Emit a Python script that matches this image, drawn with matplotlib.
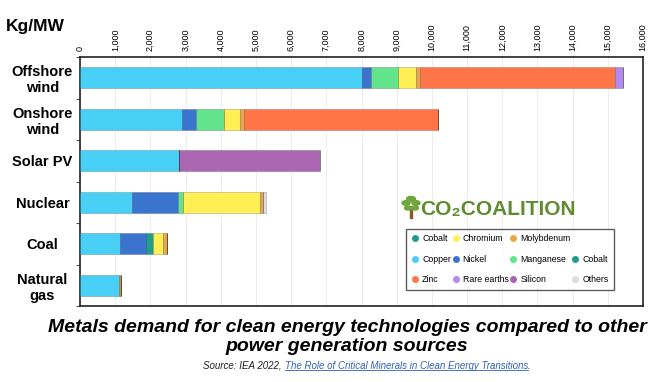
import matplotlib
matplotlib.use("Agg")
import matplotlib.pyplot as plt
from matplotlib.lines import Line2D
from matplotlib.patches import Circle, Rectangle
from matplotlib.ticker import FuncFormatter, MultipleLocator

plt.rcParams["font.family"] = ["Liberation Sans", "DejaVu Sans"]

categories = ["Offshore\nwind", "Onshore\nwind", "Solar PV", "Nuclear", "Coal", "Natural\ngas"]

# kg per MW, segment lengths
copper = [8000, 2900, 2820, 1470, 1140, 1110]
nickel = [260, 405, 0, 1320, 735, 0]
manganese = [790, 785, 0, 145, 0, 0]
cobalt = [0, 0, 0, 0, 205, 0]
chromium = [495, 465, 0, 2175, 290, 25]
molybdenum = [115, 115, 0, 100, 90, 20]
zinc = [5540, 5510, 0, 0, 0, 0]
rare_earths = [235, 0, 0, 0, 0, 0]
silicon = [0, 0, 4000, 0, 0, 0]
others = [0, 0, 0, 75, 0, 0]

series = [
    ("Copper", copper, "#47CFF6"),
    ("Nickel", nickel, "#3B74CF"),
    ("Manganese", manganese, "#62E38C"),
    ("Cobalt", cobalt, "#1E9E8C"),
    ("Chromium", chromium, "#FFEF55"),
    ("Molybdenum", molybdenum, "#E9A64A"),
    ("Zinc", zinc, "#FF7547"),
    ("Rare earths", rare_earths, "#B38AF0"),
    ("Silicon", silicon, "#AB66B1"),
    ("Others", others, "#DCDCDC"),
]
colors = {name: c for name, _, c in series}

fig = plt.figure(figsize=(6.62, 3.82), dpi=100)
ax = fig.add_axes([80 / 662, 1 - 306 / 382, 563 / 662, 249 / 382])

ypos = list(range(len(categories)))
left = [0] * len(categories)
for name, vals, col in series:
    ax.barh(ypos, vals, left=left, height=0.5, color=col,
            edgecolor=(0, 0, 0, 0.25), linewidth=0.5, zorder=3)
    left = [l + v for l, v in zip(left, vals)]

ax.set_xlim(0, 16000)
ax.set_ylim(len(categories) - 0.5, -0.5)
ax.xaxis.set_major_locator(MultipleLocator(1000))
ax.xaxis.set_major_formatter(FuncFormatter(lambda v, p: f"{int(v):,}"))
ax.xaxis.tick_top()
ax.tick_params(axis="x", length=0, labelsize=6.5, rotation=90, pad=4)
ax.grid(axis="x", color="#EDEDED", linewidth=0.8, zorder=0)

ax.set_yticks(ypos)
ax.set_yticklabels(categories, fontsize=10.5, fontweight="bold", ha="center")
ax.tick_params(axis="y", length=0, pad=27)
ax.set_yticks([i + 0.5 for i in range(-1, len(categories))], minor=True)
ax.tick_params(axis="y", which="minor", length=3, width=0.8, color="#555555")
for s in ax.spines.values():
    s.set_linewidth(1.2)
    s.set_color("#222222")

fig.text(6 / 662, 1 - 27 / 382, "Kg/MW", fontsize=12.5, fontweight="bold", va="center")

# legend
order = ["Cobalt", "Copper", "Zinc", "Chromium", "Nickel", "Rare earths",
         "Molybdenum", "Manganese", "Silicon", None, "Cobalt", "Others"]
handles, labels = [], []
for n in order:
    if n is None:
        handles.append(Line2D([], [], linestyle="none", marker=None))
        labels.append("")
    else:
        handles.append(Line2D([], [], linestyle="none", marker="o", markersize=4,
                              markerfacecolor=colors[n], markeredgecolor=colors[n]))
        labels.append(n)
leg = fig.legend(handles, labels, ncol=4, loc="lower left",
                 bbox_to_anchor=(402 / 662, 1 - 294 / 382, 216 / 662, 66 / 382),
                 mode="expand", fontsize=6.3, frameon=True, fancybox=False,
                 handletextpad=0.4, columnspacing=0.6, labelspacing=1.35,
                 borderpad=0.6, handlelength=0.8)
leg.get_frame().set_edgecolor("#333333")
leg.get_frame().set_linewidth(1.0)

# CO2 Coalition logo
fig.text(420 / 662, 1 - 210 / 382, "CO₂COALITION", fontsize=15, fontweight="bold",
         color="#5E8C2F", va="center", ha="left")
fig.patches.append(Rectangle((410 / 662, 1 - 218 / 382), 2.5 / 662, 12 / 382,
                             transform=fig.transFigure, color="#8A5A2E"))
for cx, cy, r in [(406, 203, 4), (411, 199, 4.5), (416, 203, 4), (408, 208, 3.5), (415, 208, 3.5)]:
    fig.patches.append(Circle((cx / 662, 1 - cy / 382), r / 662,
                              transform=fig.transFigure, color="#6FA53A"))

fig.text(347 / 662, 1 - 337 / 382,
         "Metals demand for clean energy technologies compared to other\npower generation sources",
         fontsize=14, fontweight="bold", style="italic", ha="center", va="center",
         linespacing=1.08)

# source line, centred as a whole
r = fig.canvas.get_renderer()
inv = fig.transFigure.inverted()
ys = 1 - 366 / 382
parts = [("Source: IEA 2022, ", "#222222"),
         ("The Role of Critical Minerals in Clean Energy Transitions", "#2E63B8"),
         (".", "#222222")]
texts = [fig.text(0, ys, s, fontsize=7.0, style="italic", ha="left", va="center", color=c)
         for s, c in parts]
widths = [inv.transform([(t.get_window_extent(r).x1, 0)])[0][0] -
          inv.transform([(t.get_window_extent(r).x0, 0)])[0][0] for t in texts]
x = 367 / 662 - sum(widths) / 2
for t, w in zip(texts, widths):
    t.set_x(x)
    x += w
bb = texts[1].get_window_extent(r)
(x0, y0), (x1, y1) = inv.transform([(bb.x0, bb.y0 + 1), (bb.x1, bb.y0 + 1)])
fig.add_artist(Line2D([x0, x1], [y0, y1], transform=fig.transFigure,
                      color="#2E63B8", linewidth=0.6))

fig.savefig("out.png", dpi=100)
